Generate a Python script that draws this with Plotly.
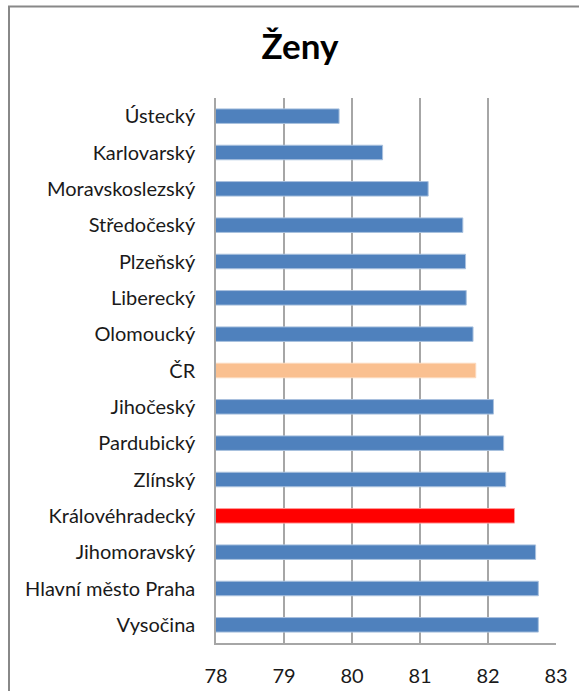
import plotly.graph_objects as go

categories = ["Ústecký", "Karlovarský", "Moravskoslezský", "Středočeský", "Plzeňský",
              "Liberecký", "Olomoucký", "ČR", "Jihočeský", "Pardubický", "Zlínský",
              "Královéhradecký", "Jihomoravský", "Hlavní město Praha", "Vysočina"]
values = [79.81, 80.45, 81.12, 81.63, 81.67, 81.68, 81.78, 81.82, 82.08, 82.23, 82.26,
          82.39, 82.70, 82.74, 82.74]
tick_vals = [78, 79, 80, 81, 82, 83]
title_text = "Ženy"

def bar_color(c):
    if c == "ČR":
        return "#FAC090"
    if c == "Královéhradecký":
        return "#FF0000"
    return "#4F81BD"

def edge_color(c):
    if c == "ČR":
        return "#FCD9BC"
    if c == "Královéhradecký":
        return "#FF9A9A"
    return "#A9C1DE"

W, H = 579, 691
L, R, T, B = 216, 23, 98, 48
pw = W - L - R
ph = H - T - B

fig = go.Figure(go.Bar(
    y=categories, x=values, orientation="h",
    base=0,
    marker=dict(color=[bar_color(c) for c in categories],
                line=dict(color=[edge_color(c) for c in categories], width=1)),
    width=0.4,
))

fig.update_layout(
    width=W, height=H,
    margin=dict(l=L, r=R, t=T, b=B, autoexpand=False),
    paper_bgcolor="white", plot_bgcolor="white",
    font=dict(family="Lato, 'Open Sans', sans-serif", size=20, color="#1a1a1a"),
    title=dict(text="<b>" + title_text + "</b>", x=300 / W, xanchor="center",
               y=1 - 47 / H, yanchor="middle", yref="container",
               font=dict(size=35, color="#000000")),
    showlegend=False,
    bargap=0.6,
    shapes=[dict(type="rect", xref="paper", yref="paper",
                 x0=(9 - L) / pw, x1=1.3, y0=-0.3, y1=(H - B - 6.5) / ph,
                 line=dict(color="#888888", width=2), fillcolor="rgba(0,0,0,0)", layer="below")],
)
fig.update_xaxes(range=[78, 83], tickvals=tick_vals, showgrid=True, gridcolor="#A6A6A6",
                 gridwidth=1.5, showline=True, linecolor="#A6A6A6", linewidth=1.5,
                 ticks="", ticklabelstandoff=14, zeroline=False, fixedrange=True,
                 automargin=False)
fig.update_yaxes(autorange="reversed", showline=True, linecolor="#A6A6A6", linewidth=1.5,
                 ticks="", ticklabelstandoff=15, showgrid=False, automargin=False,
                 fixedrange=True)

fig.write_html("out.html", config={"displayModeBar": False},
               post_script="document.body.style.margin='0';document.body.style.overflow='hidden';")
